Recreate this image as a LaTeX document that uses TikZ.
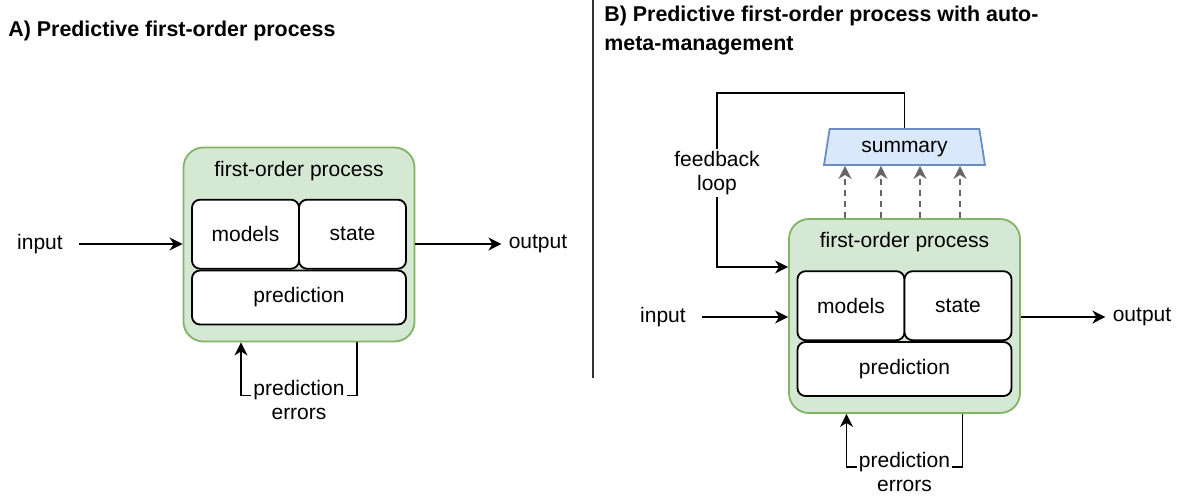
\documentclass[tikz,border=0pt]{standalone}
\usepackage{fontspec}
\setmainfont{Liberation Sans}
\usetikzlibrary{arrows.meta,positioning,shapes.geometric}
\definecolor{procgreen}{HTML}{82B366}
\definecolor{procfill}{HTML}{D5E8D4}
\definecolor{sumblue}{HTML}{6C8EBF}
\definecolor{sumfill}{HTML}{DAE8FC}
\definecolor{dashgray}{HTML}{666666}
\definecolor{rulegray}{HTML}{333333}

\tikzset{
  procbox/.style={draw=procgreen,fill=procfill,line width=0.9pt,rounded corners=10pt,minimum width=115.5pt,minimum height=97pt},
  inbox/.style={draw,fill=white,line width=0.9pt,rounded corners=4pt,inner sep=0pt,align=center},
  lbl/.style={align=center,inner sep=1pt},
  wlbl/.style={lbl,fill=white},
  arr/.style={-{Stealth[length=6.5pt,width=6.5pt,inset=2pt]},line width=0.9pt},
  dasharr/.style={arr,dashgray,dash pattern=on 3pt off 2.5pt},
  paneltitle/.style={font=\fontsize{10.7}{14.5}\selectfont\bfseries,align=left,inner sep=0pt},
}

\begin{document}
\begin{tikzpicture}[x=0.5pt,y=-0.5pt,font=\fontsize{10.5}{12}\selectfont]
\useasboundingbox (0,0) rectangle (1180,495);
% titles and divider
\node[paneltitle,anchor=west] (titA) at (8,31) {A) Predictive first-order process};
\node[paneltitle,anchor=north west] (titB) at (604,6) {B) Predictive first-order process with auto-\\meta-management};
\draw[rulegray,line width=1pt] (593,0) -- (593,378);

% A) plain process
\node[procbox] (fopA) at (299,244.5) {};
\node[lbl,below=6pt of fopA.north] (fopAt) {first-order process};
\node[inbox,minimum width=107pt,minimum height=27pt,above=8.5pt of fopA.south] (predA) {prediction};
\node[inbox,minimum width=53.5pt,minimum height=34.5pt,above right=0pt and 0pt of predA.north west] (modA) {models};
\node[inbox,minimum width=53.5pt,minimum height=34.5pt,above left=0pt and 0pt of predA.north east] (stA) {state};
\node[lbl,inner xsep=8pt] (inA) at (40,244) {input};
\node[lbl,inner xsep=3.5pt] (outA) at (538,244) {output};
\draw[arr] (inA.east) -- (inA.east -| fopA.west);
\draw[arr] (fopA.east |- outA) -- (outA.west);
\draw[arr] ([xshift=29pt]fopA.south) -- ++(0,53) -| node[wlbl,pos=0.25,yshift=-2.5pt] (errA) {prediction\\errors} ([xshift=-29pt]fopA.south);

% B) with summary and feedback loop
\node[procbox] (fopB) at (904.5,316) {};
\node[lbl,below=6pt of fopB.north] (fopBt) {first-order process};
\node[inbox,minimum width=107pt,minimum height=27pt,above=8.5pt of fopB.south] (predB) {prediction};
\node[inbox,minimum width=53.5pt,minimum height=34.5pt,above right=0pt and 0pt of predB.north west] (modB) {models};
\node[inbox,minimum width=53.5pt,minimum height=34.5pt,above left=0pt and 0pt of predB.north east] (stB) {state};
\node[lbl,inner xsep=8pt] (inB) at (663,317) {input};
\node[lbl,inner xsep=3.5pt] (outB) at (1142,317) {output};
\draw[arr] (inB.east) -- (inB.east -| fopB.west);
\draw[arr] (fopB.east |- outB) -- (outB.west);
\draw[arr] ([xshift=29pt]fopB.south) -- ++(0,53) -| node[wlbl,pos=0.25,yshift=-2.5pt] (errB) {prediction\\errors} ([xshift=-29pt]fopB.south);

\node[trapezium,trapezium angle=63.4,trapezium stretches body,draw=sumblue,fill=sumfill,line width=0.9pt,minimum width=80.5pt,minimum height=18pt,inner sep=0pt,text depth=0pt] (sum) at (904.5,147) {summary};
\foreach \dx in {-29.75,-11.75,7.75,27.75}
  \draw[dasharr] ([xshift=\dx pt]fopB.north) -- ([xshift=\dx pt]fopB.north |- sum.south);

\coordinate (fbtop) at (717,93);
\coordinate (fbin) at (717,267);
\draw[arr] (sum.north) |- (fbtop) -- node[wlbl,pos=0.46] (fbl) {feedback\\loop} (fbin) -- (fbin -| fopB.west);
\end{tikzpicture}
\end{document}
